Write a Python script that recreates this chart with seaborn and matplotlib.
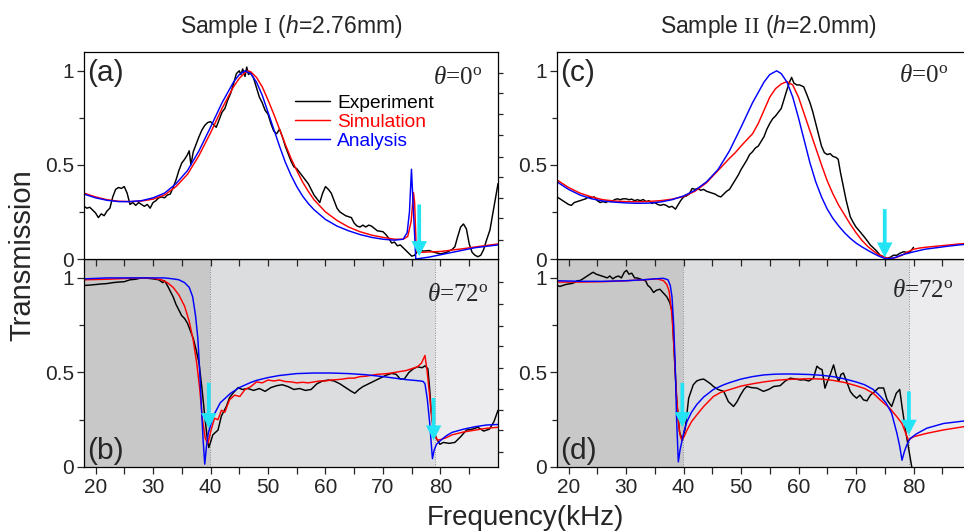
import numpy as np
import matplotlib
matplotlib.use("Agg")
import matplotlib.pyplot as plt
import seaborn as sns

sns.set_style("ticks")
plt.rcParams["font.family"] = ["Liberation Sans", "DejaVu Sans"]
plt.rcParams["mathtext.fontset"] = "custom"
plt.rcParams["mathtext.rm"] = "Liberation Serif"
plt.rcParams["mathtext.it"] = "Liberation Serif:italic"
plt.rcParams["mathtext.sf"] = "Liberation Sans:italic"

# ---------------- data (frequency kHz, transmission) ----------------
ul_exp = [(18, .28), (18.5, .27), (19, .275), (19.5, .26), (20, .245), (20.5, .22), (21, .24), (21.5, .23),
          (22, .255), (22.5, .27), (23, .33), (23.5, .37), (24, .38), (24.5, .375), (25, .385), (25.5, .35),
          (26, .29), (26.5, .30), (27, .285), (27.5, .30), (28, .29), (28.5, .28), (29, .29), (29.5, .27),
          (30, .30), (30.5, .31), (31, .325), (31.5, .33), (32, .325), (32.5, .34), (33, .345), (33.5, .38),
          (34, .42), (34.5, .47), (35, .51), (35.5, .53), (36, .555), (36.3, .575), (36.6, .50), (37, .57),
          (37.5, .61), (38, .65), (38.5, .685), (39, .71), (39.5, .725), (40, .73), (40.5, .715), (41, .70),
          (41.5, .74), (42, .78), (42.5, .80), (43, .845), (43.5, .88), (44, .93), (44.5, .985), (45, 1.0),
          (45.3, .98), (45.6, 1.01), (46, .97), (46.3, 1.02), (46.6, .98), (47, .99), (47.5, .96), (48, .91),
          (48.5, .86), (49, .83), (49.5, .79), (50, .77), (50.5, .72), (51, .68), (51.5, .665), (52, .69),
          (52.5, .65), (53, .60), (53.5, .56), (54, .52), (54.5, .49), (55, .48), (55.5, .46), (56, .44),
          (56.5, .42), (57, .40), (57.5, .37), (58, .34), (58.5, .32), (59, .30), (59.5, .35), (60, .385),
          (60.5, .37), (61, .35), (61.5, .31), (62, .27), (62.5, .25), (63, .24), (63.5, .23), (64, .225),
          (64.5, .22), (65, .19), (65.5, .175), (66, .17), (66.5, .18), (67, .17), (67.5, .18), (68, .175),
          (69, .15), (70, .145), (70.5, .13), (71, .11), (71.5, .085), (72, .09), (72.5, .07), (73, .075),
          (73.5, .06), (74, .045), (74.5, .03), (75, .015), (75.5, .02), (76, .04), (76.5, .048), (77, .042),
          (78, .045), (79, .035), (80, .027), (81, .035), (82, .05), (82.5, .065), (83, .12), (83.5, .17),
          (84, .186), (84.5, .16), (85, .08), (85.5, .035), (86, .02), (86.5, .012), (87, .02), (87.5, .05),
          (88, .10), (88.6, .154), (89.2, .26), (90, .40)]
ul_sim = [(18, .35), (20, .33), (22, .315), (24, .307), (26, .305), (28, .308), (30, .318), (32, .34),
          (34, .385), (36, .45), (38, .55), (40, .67), (42, .80), (44, .915), (45, .96), (46, .99), (46.5, 1.0),
          (47, .995), (48, .965), (49, .915), (50, .845), (51, .77), (52, .69), (53, .61), (54, .535), (55, .47),
          (56, .41), (57, .36), (58, .315), (60, .25), (62, .205), (64, .17), (66, .145), (68, .127), (70, .115),
          (72, .105), (73.5, .105), (74.3, .12), (74.9, .2), (75.3, .353), (75.5, .30), (75.8, .04),
          (76.2, .035), (80, .04), (84, .055), (87, .068), (90, .08)]
ul_ana = [(18, .345), (20, .325), (22, .312), (24, .305), (26, .305), (28, .31), (30, .325), (32, .35),
          (34, .40), (36, .47), (38, .575), (40, .70), (42, .83), (44, .94), (45, .98), (46, 1.0), (47, .985),
          (48, .94), (49, .87), (50, .78), (51, .69), (52, .60), (53, .515), (54, .445), (55, .385), (56, .335),
          (57, .295), (58, .262), (60, .21), (62, .175), (64, .15), (66, .13), (68, .115), (70, .105), (72, .10),
          (73.5, .105), (74.2, .14), (74.6, .25), (74.95, .477), (75.3, .25), (75.7, 0.0), (78, .01), (82, .035),
          (86, .06), (90, .075)]

ll_exp = [(18, .96), (19, .962), (20, .965), (21, .968), (22, .97), (23, .975), (24, .978), (25, .98), (26, .99),
          (27, .993), (28, 1.0), (29, .998), (30, .995), (31, .99), (31.7, .975), (32, .985), (32.5, .96),
          (33, .93), (33.5, .90), (34, .86), (34.5, .83), (35, .80), (35.5, .785), (36, .76), (36.5, .72),
          (37, .68), (37.5, .62), (38, .55), (38.5, .42), (39, .27), (39.4, .16), (39.7, .103), (40, .13),
          (40.4, .17), (41.3, .195), (41.9, .27), (42.75, .32), (43.3, .366), (43.9, .39), (44.8, .42),
          (45.5, .41), (46.5, .415), (47.5, .405), (48.5, .415), (49.5, .40), (50.5, .42), (51.5, .43),
          (52.5, .435), (53.5, .425), (54.5, .41), (55.5, .415), (56.5, .405), (57.5, .41), (58.5, .44),
          (59.5, .455), (60.5, .46), (61.5, .455), (62.5, .44), (63.5, .42), (64.5, .40), (65.1, .39),
          (65.8, .41), (66.5, .425), (67.5, .44), (68.5, .455), (69.5, .47), (70.5, .485), (71.5, .495),
          (72.3, .49), (73, .465), (73.7, .465), (74.5, .50), (75.3, .52), (76, .53), (76.8, .525), (77.3, .535),
          (77.8, .52), (78.1, .42), (78.4, .29), (78.8, .20), (79.3, .15), (79.9, .12), (80.5, .13), (81.5, .125),
          (82.5, .13), (83.5, .16), (84.5, .195), (85.5, .20), (86.5, .21), (87.5, .19), (88.5, .20),
          (89.3, .24), (90, .30)]
ll_sim = [(18, .99), (22, .993), (26, .998), (28, 1.0), (30, .998), (31.5, .99), (32.5, .975), (33.5, .95),
          (34.5, .91), (35.5, .85), (36.3, .77), (37, .67), (37.6, .55), (38.1, .42), (38.6, .25), (39.1, .15),
          (39.55, .125), (40.1, .195), (40.7, .258), (41.3, .25), (41.9, .30), (42.5, .29), (43.3, .355),
          (44.2, .38), (45.1, .373), (46, .41), (47, .425), (48, .45), (49, .445), (50, .46), (51, .455),
          (52, .46), (53, .452), (54, .45), (55, .445), (56, .448), (57, .445), (58, .45), (59, .455), (60, .455),
          (61, .46), (62, .462), (63, .465), (64, .47), (65, .47), (66, .478), (67, .48), (68, .485), (69, .49),
          (70, .492), (71, .495), (72, .50), (73, .505), (74, .51), (75, .52), (76, .53), (76.7, .55),
          (77.3, .59), (77.7, .50), (78.1, .38), (78.5, .25), (78.9, .17), (79.5, .142), (80, .145), (81, .155),
          (82, .17), (84, .185), (86, .195), (88, .205), (90, .21)]
ll_ana = [(18, .995), (22, 1.0), (26, 1.0), (30, 1.0), (32, 1.0), (33.5, .995), (34.5, .99), (35.5, .975),
          (36.3, .95), (36.9, .90), (37.4, .80), (37.8, .68), (38.1, .52), (38.4, .33), (38.7, .15),
          (39.0, .015), (39.3, .11), (39.6, .178), (40.5, .27), (41.7, .34), (43.5, .39), (45, .42), (47, .447),
          (48, .458), (50, .473), (52, .484), (55, .494), (58, .497), (61, .497), (64, .494), (67, .488),
          (70, .478), (72, .47), (74, .462), (75.5, .458), (76.5, .455), (77.0, .452), (77.3, .44), (77.7, .36),
          (78.1, .24), (78.4, .12), (78.6, .044), (78.9, .09), (79.3, .12), (80, .14), (81, .165), (82, .183),
          (84, .20), (86, .213), (88, .222), (90, .225)]

ur_exp = [(18, .33), (18.5, .32), (19, .31), (19.5, .30), (20, .29), (20.5, .285), (21, .30), (21.5, .305),
          (22, .31), (22.5, .315), (23, .32), (23.5, .33), (24, .325), (24.5, .33), (25, .31), (25.5, .30),
          (26, .305), (26.5, .30), (27, .31), (27.5, .305), (28, .315), (28.5, .32), (29, .315), (29.5, .32),
          (30, .32), (30.5, .315), (31, .318), (31.5, .31), (32, .315), (32.5, .31), (33, .316), (33.5, .305),
          (34, .31), (34.5, .295), (35, .30), (35.5, .29), (36, .285), (36.5, .29), (37, .285), (37.5, .275),
          (38, .28), (38.6, .265), (39, .285), (39.5, .31), (40, .33), (40.5, .335), (41, .345), (41.5, .375),
          (42, .37), (42.5, .375), (43, .365), (43.5, .37), (44, .36), (44.5, .355), (45, .35), (45.5, .345),
          (46, .335), (46.5, .33), (47, .345), (47.5, .36), (48, .37), (48.5, .395), (49, .42), (49.5, .445),
          (50, .475), (50.5, .50), (51, .525), (51.5, .555), (52, .57), (52.5, .59), (53, .60), (53.5, .625),
          (54, .65), (54.5, .69), (55, .72), (55.5, .745), (56, .76), (56.5, .78), (57, .80), (57.5, .85),
          (58, .90), (58.5, .945), (58.8, .965), (59.2, .935), (59.7, .925), (60.2, .925), (60.9, .915),
          (61.5, .87), (62, .83), (62.5, .78), (63, .72), (63.5, .66), (64, .60), (64.5, .565), (65, .555),
          (65.5, .56), (66, .545), (66.5, .54), (66.9, .53), (67.3, .46), (67.8, .385), (68.3, .31), (69, .225),
          (69.5, .195), (70, .17), (70.7, .145), (71.5, .115), (72, .095), (72.5, .074), (73, .06), (73.5, .045),
          (74.2, .02), (75, .01), (75.4, .004), (76, .01), (76.5, .02), (77.1, .02), (77.6, .03), (78.3, .039),
          (78.8, .035), (79.2, .034), (79.6, .045), (80, .062)]
ur_sim = [(18, .42), (20, .38), (22, .35), (24, .33), (26, .315), (28, .308), (30, .305), (32, .304),
          (34, .306), (36, .31), (38, .318), (40, .332), (42, .36), (44, .405), (46, .47), (48, .535), (49, .565),
          (50, .60), (51, .633), (52, .665), (53, .72), (54, .79), (55, .86), (56, .905), (57, .93), (58, .943),
          (59, .925), (60, .86), (61, .77), (62, .68), (63, .59), (64, .50), (65, .415), (66, .345), (67, .285),
          (68, .235), (69, .185), (70, .14), (71, .10), (72, .068), (73, .043), (74, .022), (75, .008),
          (76, .003), (77, .008), (78, .02), (79, .038), (80, .052), (81, .058), (82, .062), (84, .068),
          (86, .074), (88, .08), (90, .085)]
ur_ana = [(18, .41), (20, .37), (22, .34), (24, .32), (26, .308), (28, .302), (30, .298), (32, .296),
          (34, .297), (36, .303), (38, .315), (40, .335), (42, .365), (44, .41), (46, .475), (48, .575),
          (50, .70), (52, .83), (54, .94), (55, .98), (56.2, 1.0), (57, .985), (58, .94), (59, .86), (60, .75),
          (61, .63), (62, .51), (63, .41), (64, .33), (65, .265), (66, .215), (67, .175), (68, .14), (69, .11),
          (70, .085), (71, .065), (72, .047), (73, .03), (74, .015), (75, .003), (76, .002), (77, .01),
          (78, .022), (80, .038), (82, .052), (84, .06), (86, .068), (88, .075), (90, .08)]

lr_exp = [(18, .96), (18.5, .955), (19, .96), (19.5, .965), (20, .968), (20.5, .97), (21, .975), (21.5, .985),
          (22, .986), (22.5, .995), (23, 1.005), (23.5, 1.015), (24, 1.025), (24.3, 1.03), (24.8, 1.02),
          (25.3, 1.015), (25.8, 1.01), (26.3, 1.005), (26.7, 1.0), (27.2, 1.01), (27.7, .995), (28.2, 1.005),
          (28.7, 1.01), (29.2, 1.0), (29.7, 1.03), (30.1, 1.04), (30.5, 1.02), (31, 1.025), (31.5, 1.0),
          (31.9, 1.0), (32.4, .995), (32.9, .99), (33.4, .985), (33.8, .96), (34.2, .95), (34.8, .923),
          (35.3, .935), (35.9, .94), (36.5, .92), (37.1, .90), (37.6, .87), (38, .826), (38.2, .72),
          (38.4, .595), (38.8, .364), (39.3, .186), (39.8, .142), (40.3, .204), (40.9, .364), (41.7, .435),
          (42.3, .455), (42.9, .462), (43.5, .465), (44.1, .453), (44.7, .44), (45.2, .426), (46, .41),
          (47, .40), (47.8, .346), (48.7, .32), (49.3, .345), (49.9, .38), (50.5, .41), (51, .426), (51.8, .42),
          (52.8, .417), (53.9, .40), (54.8, .41), (55.7, .426), (56.8, .43), (57.7, .455), (58.6, .47),
          (59.5, .465), (60.4, .46), (60.9, .462), (61.8, .455), (62.6, .47), (63.2, .533), (63.7, .52),
          (64.1, .515), (64.6, .417), (65, .45), (65.5, .488), (66.1, .54), (66.6, .48), (67, .453), (67.4, .49),
          (67.8, .497), (68.4, .45), (69, .40), (69.5, .38), (70.1, .364), (70.7, .38), (71.3, .355),
          (71.9, .35), (72.5, .38), (73.3, .40), (73.9, .418), (74.8, .418), (75.4, .355), (76.2, .32),
          (77, .39), (77.6, .41), (78, .32), (78.6, .196), (79.1, .107), (79.7, 0.0), (80, -.05)]
lr_sim = [(18, .978), (22, .978), (26, .98), (30, .985), (33, .99), (35.4, .995), (36.5, .986), (37.1, .965),
          (37.5, .93), (38.0, .80), (38.4, .60), (38.7, .417), (39.1, .24), (39.4, .17), (39.7, .142),
          (40.1, .16), (40.6, .195), (41.4, .24), (42.3, .275), (43.5, .32), (45.2, .373), (46.5, .395),
          (48.1, .41), (50, .428), (52, .44), (54, .45), (56, .458), (58, .463), (60, .465), (62, .467),
          (64, .465), (66, .458), (68, .447), (70, .43), (71.5, .415), (73, .39), (74.2, .355), (75.9, .31),
          (77.1, .266), (78, .23), (79.1, .142), (80, .16), (82.3, .178), (85.2, .196), (88.7, .213), (90, .215)]
lr_ana = [(18, .985), (22, .982), (26, .982), (30, .985), (33, .99), (35, .995), (36.5, .998), (37.3, .99),
          (37.7, .96), (38.0, .90), (38.3, .75), (38.55, .55), (38.8, .25), (39.1, .027), (39.4, .09),
          (39.7, .133), (40.1, .19), (40.6, .24), (41.4, .29), (42.3, .33), (43.5, .37), (45.2, .41), (47, .435),
          (48.1, .447), (50, .465), (52, .478), (54, .487), (56, .491), (58, .492), (60, .491), (62, .489),
          (64, .485), (66, .478), (68, .466), (70, .45), (71.5, .435), (73, .41), (74.2, .375), (75.2, .34),
          (76.2, .284), (77.1, .18), (77.6, .11), (78.0, .036), (78.4, .08), (78.8, .115), (79.4, .15),
          (80.5, .175), (82.3, .205), (85.2, .23), (88.7, .243), (90, .245)]

series_names = ["Experiment", "Simulation", "Analysis"]
series_colors = ["black", "#ff0000", "#0000ff"]

# band boundaries (kHz) for lower panels and cyan arrow markers (x, tail, tip)
bands_left = [18, 39.85, 79.0, 90]
bands_right = [18, 39.9, 79.3, 90]
band_colors = ["#c8c8c8", "#dbdddf", "#ececee"]
arrows = {
    "ul": [(76.3, 0.29, 0.015)],
    "ur": [(75.0, 0.265, 0.008)],
    "ll": [(39.7, 0.445, 0.205), (78.8, 0.365, 0.14)],
    "lr": [(39.8, 0.445, 0.21), (79.2, 0.40, 0.17)],
}
right_ticks_upper = [0.101, 0.218, 0.324, 0.438, 0.544, 0.66, 0.77, 0.88, 0.988]
right_ticks_lower = [0.08, 0.195, 0.30, 0.41, 0.526, 0.64, 0.746, 0.86, 0.977]

# ---------------- figure ----------------
W, H = 964, 532
fig = plt.figure(figsize=(W / 100, H / 100), dpi=100)


def fr(x0, y0, x1, y1):
    return [x0 / W, 1 - y1 / H, (x1 - x0) / W, (y1 - y0) / H]


ax_ul = fig.add_axes(fr(84, 52, 498, 259))
ax_ll = fig.add_axes(fr(84, 259, 498, 467))
ax_ur = fig.add_axes(fr(557, 52, 971, 259))
ax_lr = fig.add_axes(fr(557, 259, 971, 467))
for a in (ax_ul, ax_ur):
    a.set_zorder(3)
for a in (ax_ll, ax_lr):
    a.set_zorder(1)

CY = "#22e4f4"


def draw(ax, data, label=False):
    for d, name, c in zip(data, series_names, series_colors):
        xs = [p[0] for p in d]
        ys = [p[1] for p in d]
        sns.lineplot(x=xs, y=ys, ax=ax, color=c, lw=1.05, estimator=None, sort=False,
                     label=name if label else None, legend=False)


for ax, bands in ((ax_ll, bands_left), (ax_lr, bands_right)):
    for i in range(3):
        ax.axvspan(bands[i], bands[i + 1], color=band_colors[i], lw=0, zorder=0)
    for b in bands[1:3]:
        ax.axvline(b, color="#888888", lw=0.7, ls=(0, (1, 1.5)), zorder=0.5)

draw(ax_ul, [ul_exp, ul_sim, ul_ana], label=True)
draw(ax_ll, [ll_exp, ll_sim, ll_ana])
draw(ax_ur, [ur_exp, ur_sim, ur_ana])
draw(ax_lr, [lr_exp, lr_sim, lr_ana])

for key, ax in (("ul", ax_ul), ("ur", ax_ur), ("ll", ax_ll), ("lr", ax_lr)):
    for x, y0, y1 in arrows[key]:
        ax.arrow(x, y0, 0, y1 - y0, width=0.65, head_width=2.7, head_length=0.08,
                 length_includes_head=True, color=CY, lw=0, zorder=5)

for ax in (ax_ul, ax_ll, ax_ur, ax_lr):
    ax.set_xlim(18, 90)
    ax.set_ylim(0, 1.1)
    ax.set_yticks([0, 0.5, 1], labels=["0", "0.5", "1"])
    ax.set_yticks([0.25, 0.75], minor=True)
    ax.set_xticks(range(20, 90, 10))
    ax.set_xticks(range(25, 90, 10), minor=True)
    for s in ax.spines.values():
        s.set_linewidth(0.9)
        s.set_color("black")
    ax.tick_params(axis="y", which="major", direction="out", length=5, width=0.9, labelsize=15, pad=2)
    ax.tick_params(axis="y", which="minor", direction="out", length=3.5, width=0.9)
    ax.tick_params(axis="x", which="both", direction="out", length=5, width=0.9, labelsize=15, pad=3)
    ax.set_xlabel("")
    ax.set_ylabel("")
    ax.set_facecolor("white")

for ax in (ax_ul, ax_ur):
    ax.tick_params(axis="x", labelbottom=False)

for ax, ticks in ((ax_ul, right_ticks_upper), (ax_ll, right_ticks_lower)):
    tw = ax.twinx()
    tw.set_ylim(0, 1.1)
    tw.set_yticks(ticks)
    tw.tick_params(axis="y", direction="out", length=3.5, width=0.9, labelright=False)
    for s in tw.spines.values():
        s.set_visible(False)
    tw.set_zorder(ax.get_zorder())

# legend
leg = ax_ul.legend(loc="upper left", bbox_to_anchor=(0.51, 0.795), frameon=False, fontsize=13.8,
                   handlelength=1.8, handletextpad=0.4, labelspacing=0.08, borderpad=0,
                   borderaxespad=0, labelcolor="linecolor")

# panel labels
for ax, lab, y in ((ax_ul, "(a)", 0.90), (ax_ll, "(b)", 0.077), (ax_ur, "(c)", 0.90), (ax_lr, "(d)", 0.077)):
    ax.text(0.008, y, lab, transform=ax.transAxes, fontsize=21.5, ha="left", va="center", zorder=6)

# angle labels
for ax, lab, x, y in ((ax_ul, r"$\theta$=0$^{\mathrm{o}}$", 0.961, 0.874),
                      (ax_ur, r"$\theta$=0$^{\mathrm{o}}$", 0.944, 0.884),
                      (ax_ll, r"$\theta$=72$^{\mathrm{o}}$", 0.976, 0.827),
                      (ax_lr, r"$\theta$=72$^{\mathrm{o}}$", 0.957, 0.846)):
    ax.text(x, y, lab, transform=ax.transAxes, fontsize=18, ha="right", va="center",
            family=["Liberation Serif", "DejaVu Serif"], zorder=6)

fig.text(291 / W, 1 - 27 / H, r"Sample $\mathrm{I}$ ($\mathsf{h}$=2.76mm)", ha="center", va="center", fontsize=16.5)
fig.text(768 / W, 1 - 27 / H, r"Sample $\mathrm{II}$ ($\mathsf{h}$=2.0mm)", ha="center", va="center", fontsize=16.5)
fig.text(22 / W, 1 - 255 / H, "Transmission", rotation=90, ha="center", va="center", fontsize=21)
fig.text(525 / W, 1 - 518 / H, "Frequency(kHz)", ha="center", va="center", fontsize=20)

fig.savefig("out.png", dpi=100)
